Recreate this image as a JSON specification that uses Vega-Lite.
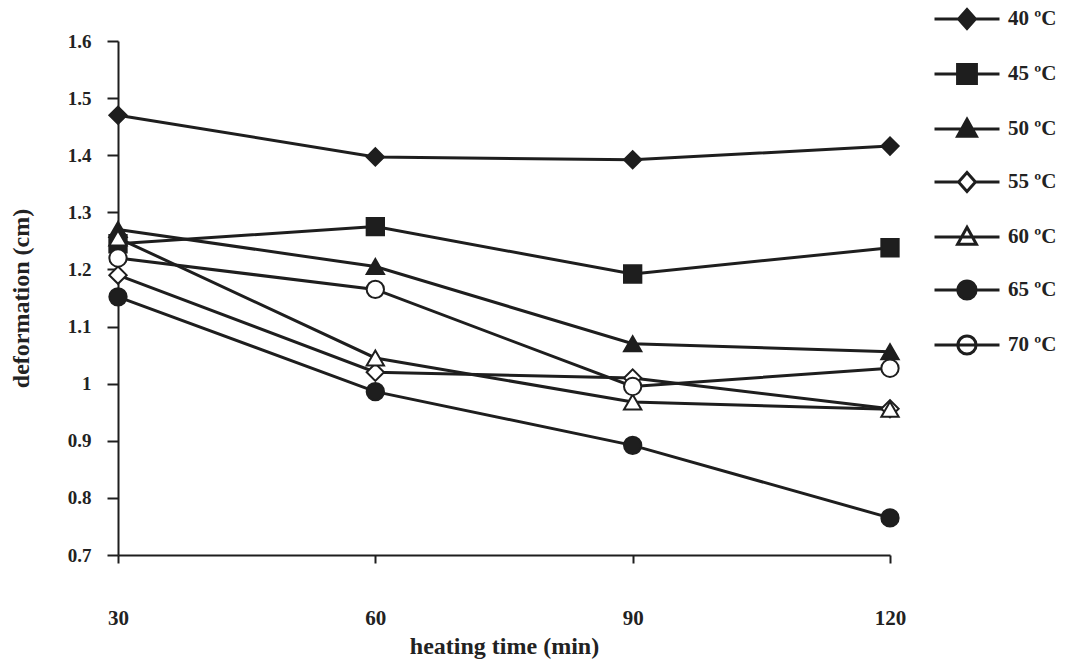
{
  "$schema": "https://vega.github.io/schema/vega-lite/v6.json",
  "autosize": "none",
  "padding": {"left": 118, "top": 41, "right": 183, "bottom": 117},
  "width": 772,
  "height": 514,
  "background": "white",
  "config": {
    "view": {"stroke": null},
    "axis": {
      "domainColor": "#1e1e1e", "domainWidth": 2, "tickColor": "#1e1e1e", "tickWidth": 2,
      "labelFont": "Liberation Serif", "labelFontWeight": "bold", "labelColor": "#222",
      "titleFont": "Liberation Serif", "titleFontWeight": "bold", "titleColor": "#222",
      "grid": false
    },
    "legend": {
      "labelFont": "Liberation Serif", "labelFontWeight": "bold", "labelColor": "#222"
    }
  },
  "data": {
    "values": [
      {"t": 30, "d": 1.47, "s": "40 ºC"}, {"t": 60, "d": 1.397, "s": "40 ºC"}, {"t": 90, "d": 1.392, "s": "40 ºC"}, {"t": 120, "d": 1.416, "s": "40 ºC"},
      {"t": 30, "d": 1.245, "s": "45 ºC"}, {"t": 60, "d": 1.275, "s": "45 ºC"}, {"t": 90, "d": 1.192, "s": "45 ºC"}, {"t": 120, "d": 1.238, "s": "45 ºC"},
      {"t": 30, "d": 1.27, "s": "50 ºC"}, {"t": 60, "d": 1.205, "s": "50 ºC"}, {"t": 90, "d": 1.07, "s": "50 ºC"}, {"t": 120, "d": 1.056, "s": "50 ºC"},
      {"t": 30, "d": 1.19, "s": "55 ºC"}, {"t": 60, "d": 1.02, "s": "55 ºC"}, {"t": 90, "d": 1.01, "s": "55 ºC"}, {"t": 120, "d": 0.956, "s": "55 ºC"},
      {"t": 30, "d": 1.255, "s": "60 ºC"}, {"t": 60, "d": 1.045, "s": "60 ºC"}, {"t": 90, "d": 0.968, "s": "60 ºC"}, {"t": 120, "d": 0.955, "s": "60 ºC"},
      {"t": 30, "d": 1.152, "s": "65 ºC"}, {"t": 60, "d": 0.986, "s": "65 ºC"}, {"t": 90, "d": 0.892, "s": "65 ºC"}, {"t": 120, "d": 0.765, "s": "65 ºC"},
      {"t": 30, "d": 1.22, "s": "70 ºC"}, {"t": 60, "d": 1.165, "s": "70 ºC"}, {"t": 90, "d": 0.995, "s": "70 ºC"}, {"t": 120, "d": 1.027, "s": "70 ºC"}
    ]
  },
  "encoding": {
    "x": {
      "field": "t", "type": "quantitative",
      "scale": {"domain": [30, 120], "nice": false, "zero": false},
      "axis": {
        "values": [30, 60, 90, 120], "format": "d", "tickSize": 8, "labelPadding": 44,
        "labelFontSize": 21, "labelFlush": false,
        "title": "heating time (min)", "titleFontSize": 24, "titlePadding": 6
      }
    },
    "y": {
      "field": "d", "type": "quantitative",
      "scale": {"domain": [0.7, 1.6], "nice": false, "zero": false},
      "axis": {
        "values": [0.7, 0.8, 0.9, 1.0, 1.1, 1.2, 1.3, 1.4, 1.5, 1.6], "format": ".1~f",
        "tickSize": 11, "labelPadding": 16, "labelFontSize": 19, "labelFlush": false,
        "title": "deformation (cm)", "titleFontSize": 24, "titlePadding": 34
      }
    }
  },
  "layer": [
    {
      "mark": {"type": "line", "color": "#1e1e1e", "strokeWidth": 3},
      "encoding": {"detail": {"field": "s"}}
    },
    {
      "mark": {"type": "point", "stroke": "#1e1e1e", "strokeWidth": 2, "opacity": 1, "size": 300},
      "encoding": {
        "shape": {
          "field": "s", "type": "nominal", "legend": null,
          "scale": {
            "domain": ["40 ºC", "45 ºC", "50 ºC", "55 ºC", "60 ºC", "65 ºC", "70 ºC"],
            "range": ["diamond", "square", "triangle-up", "diamond", "triangle-up", "circle", "circle"]
          }
        },
        "fill": {
          "field": "s", "type": "nominal", "legend": null,
          "scale": {
            "domain": ["40 ºC", "45 ºC", "50 ºC", "55 ºC", "60 ºC", "65 ºC", "70 ºC"],
            "range": ["#1e1e1e", "#1e1e1e", "#1e1e1e", "white", "white", "#1e1e1e", "white"]
          }
        }
      }
    },
    {
      "mark": {"type": "point", "opacity": 0, "stroke": "#1e1e1e", "size": 10},
      "encoding": {
        "shape": {
          "field": "s", "type": "nominal",
          "scale": {
            "domain": ["40 ºC", "45 ºC", "50 ºC", "55 ºC", "60 ºC", "65 ºC", "70 ºC"],
            "range": [
              "M-1,0H1M0,-0.29L0.26,0L0,0.29L-0.26,0Z",
              "M-1,0H1M-0.29,-0.29H0.29V0.29H-0.29Z",
              "M-1,0H1M0,-0.3L0.29,0.22H-0.29Z",
              "M-1,0H-0.26M0.26,0H1M0,-0.29L0.26,0L0,0.29L-0.26,0Z",
              "M-1,0H1M0,-0.3L0.29,0.22H-0.29Z",
              "M-1,0H1M0.28,0A0.28,0.28 0 1,1 -0.28,0A0.28,0.28 0 1,1 0.28,0Z",
              "M-1,0H1M0.28,0A0.28,0.28 0 1,1 -0.28,0A0.28,0.28 0 1,1 0.28,0Z"
            ]
          },
          "legend": {
            "title": null, "orient": "none", "legendX": 815, "legendY": -56,
            "symbolSize": 4225, "symbolStrokeWidth": 3, "symbolStrokeColor": "#1e1e1e",
            "labelFontSize": 21, "labelOffset": 7, "rowPadding": 5,
            "encode": {"symbols": {"update": {"opacity": {"value": 1}, "stroke": {"value": "#1e1e1e"}, "strokeWidth": {"value": 3}}}}
          }
        },
        "fill": {
          "field": "s", "type": "nominal",
          "scale": {
            "domain": ["40 ºC", "45 ºC", "50 ºC", "55 ºC", "60 ºC", "65 ºC", "70 ºC"],
            "range": ["#1e1e1e", "#1e1e1e", "#1e1e1e", "white", "white", "#1e1e1e", "white"]
          },
          "legend": {
            "title": null, "orient": "none", "legendX": 815, "legendY": -56,
            "symbolSize": 4225, "symbolStrokeWidth": 3, "symbolStrokeColor": "#1e1e1e",
            "labelFontSize": 21, "labelOffset": 7, "rowPadding": 5,
            "encode": {"symbols": {"update": {"opacity": {"value": 1}, "stroke": {"value": "#1e1e1e"}, "strokeWidth": {"value": 3}}}}
          }
        }
      }
    }
  ],
  "resolve": {
    "scale": {"shape": "independent", "fill": "independent"},
    "legend": {"shape": "independent", "fill": "independent"}
  }
}
